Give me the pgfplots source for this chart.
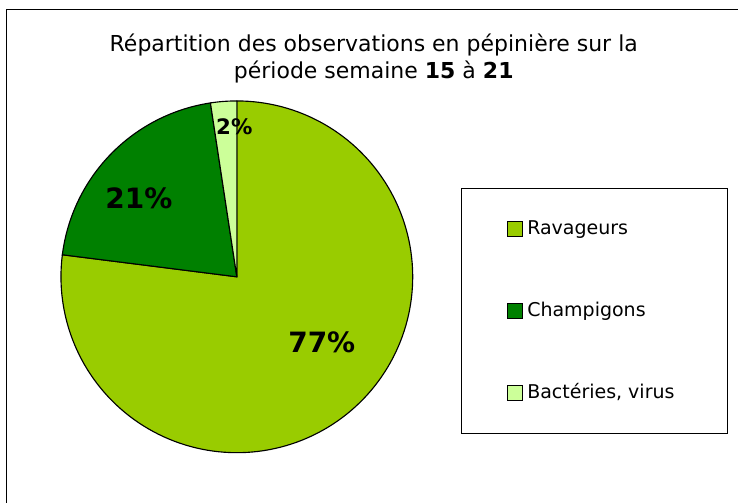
\documentclass[border=0pt]{standalone}
\usepackage{pgfplots}
\usepackage{pgfplotstable}
\pgfplotsset{compat=1.18}
\usepackage{fontspec}
\setmainfont{DejaVu Sans}

\definecolor{ravcol}{HTML}{99CC00}
\definecolor{chacol}{HTML}{008000}
\definecolor{baccol}{HTML}{CCFF99}

\pgfplotstableread{
label value
Ravageurs 77.0
Champigons 20.6
Bacteries 2.4
}\piedata

\begin{document}
\begin{tikzpicture}
\pgfplotstablegetelem{0}{value}\of\piedata \let\vA\pgfplotsretval
\pgfplotstablegetelem{1}{value}\of\piedata \let\vB\pgfplotsretval
\pgfplotstablegetelem{2}{value}\of\piedata \let\vC\pgfplotsretval
\pgfmathsetmacro\aA{90}
\pgfmathsetmacro\aB{\aA-3.6*\vA}
\pgfmathsetmacro\aC{\aB-3.6*\vB}
\pgfmathsetmacro\aD{\aC-3.6*\vC}
\newcommand\pct[1]{\pgfmathprintnumber[fixed,precision=0,assume math mode=true]{#1}\%}
\begin{axis}[
    scale only axis,
    width=553.5pt, height=377.25pt,
    xmin=0, xmax=738, ymin=0, ymax=503,
    hide axis, clip=false,
    area legend,
    legend image code/.code={\draw[#1, draw=black, line width=0.8pt] (0pt,-5.5pt) rectangle (11pt,5.5pt);},
    legend cell align=left,
    legend style={
      at={(507/738,192/503)}, anchor=west,
      draw=none, fill=none, inner sep=0pt,
      font=\fontsize{14.25}{16}\selectfont,
      nodes={inner sep=0pt, text height=11pt, text depth=3pt},
      row sep=47.5pt,
      /tikz/every odd column/.append style={column sep=3.5pt},
    },
  ]
  \path (axis cs:0,0) rectangle (axis cs:738,503);
  % frame
  \draw[black, line width=0.75pt] (axis cs:7,0) -- (axis cs:7,493) -- (axis cs:738,493);
  % legend box
  \draw[black, line width=0.75pt] (axis cs:462,314) rectangle (axis cs:728,69);

  \addplot[fill=ravcol, draw=black, line width=0.85pt, domain=\aB:\aA, samples=150, variable=\t]
    ({237+176*cos(\t)}, {226+176*sin(\t)}) -- (axis cs:237,226) -- cycle;
  \addlegendentry{Ravageurs}
  \addplot[fill=chacol, draw=black, line width=0.85pt, domain=\aC:\aB, samples=60, variable=\t]
    ({237+176*cos(\t)}, {226+176*sin(\t)}) -- (axis cs:237,226) -- cycle;
  \addlegendentry{Champigons}
  \addplot[fill=baccol, draw=black, line width=0.85pt, domain=\aD:\aC, samples=10, variable=\t]
    ({237+176*cos(\t)}, {226+176*sin(\t)}) -- (axis cs:237,226) -- cycle;
  \addlegendentry{Bactéries, virus}

  % percentage labels
  \node[anchor=base, font=\fontsize{21}{24}\bfseries] at (axis cs:322,150) {\pct{\vA}};
  \node[anchor=base, font=\fontsize{21}{24}\bfseries] at (axis cs:139,294) {\pct{\vB}};
  \node[anchor=base, font=\fontsize{16}{18}\bfseries] at (axis cs:234.5,368) {\pct{\vC}};

  % title
  \node[anchor=base, font=\fontsize{16.5}{20}\selectfont] at (axis cs:374,451) {Répartition des observations en pépinière sur la};
  \node[anchor=base, font=\fontsize{16.5}{20}\selectfont] at (axis cs:374,424) {période semaine \textbf{15} à \textbf{21}};
\end{axis}
\end{tikzpicture}
\end{document}
